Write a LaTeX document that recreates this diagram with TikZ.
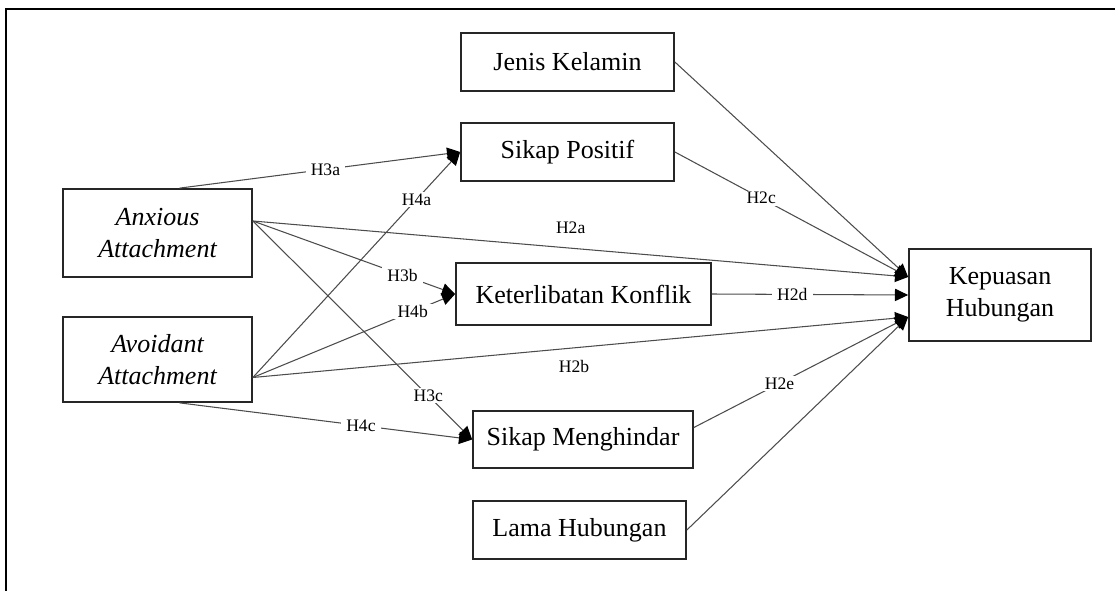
\documentclass[tikz,border=0pt]{standalone}
\usepackage{fontspec}
\setmainfont{Liberation Serif}
\usetikzlibrary{calc}
\usetikzlibrary{arrows.meta}

\begin{document}
\begin{tikzpicture}[x=0.02cm, y=-0.02cm,
    box/.style={draw=black!85, line width=1pt, text=black, align=center, inner sep=2pt,
                font=\fontsize{14.8}{18}\selectfont},
    att/.style={box, font=\fontsize{14.8}{18}\selectfont\itshape},
    link/.style={draw=black!70, line width=0.6pt, -{Triangle[length=7.5pt,width=7pt,color=black]}},
    hyp/.style={fill=white, inner xsep=3pt, inner ysep=1pt, font=\fontsize{10}{12}\selectfont}]
    \useasboundingbox (0,0) rectangle (1115,591);
    \draw [line width=1pt] (1115,9) -- (6,9) -- (6,591);

    % variabel bebas
    \node [att, minimum width=3.78cm, minimum height=1.76cm] (anx) at (157.5,233) {Anxious\\Attachment};
    \node [att, minimum width=3.78cm, minimum height=1.70cm] (avo) at (157.5,359.5) {Avoidant\\Attachment};

    % mediator dan kontrol
    \node [box, minimum width=4.26cm, minimum height=1.16cm] (jk) at (567.5,62) {Jenis Kelamin};
    \node [box, minimum width=4.26cm, minimum height=1.16cm] (sp) at (567.5,152) {Sikap Positif};
    \node [box, minimum width=5.10cm, minimum height=1.24cm] (kk) at (583.5,294) {Keterlibatan Konflik};
    \node [box, minimum width=4.40cm, minimum height=1.14cm] (sm) at (583,439.5) {Sikap Menghindar};
    \node [box, minimum width=4.26cm, minimum height=1.16cm] (lh) at (579.5,530) {Lama Hubungan};

    % variabel terikat
    \node [box, minimum width=3.64cm, minimum height=1.84cm] (kh) at (1000,295) {Kepuasan\\Hubungan};

    \coordinate (anxtop) at ($(anx.north)+(22,0)$);
    \coordinate (anxout) at ($(anx.east)+(0,-12)$);
    \coordinate (avobot) at ($(avo.south)+(22,0)$);
    \coordinate (avoout) at ($(avo.east)+(0,18)$);
    \coordinate (smout) at ($(sm.east)+(0,-12)$);
    \coordinate (khtop) at ($(kh.west)+(0,-18)$);
    \coordinate (khbot) at ($(kh.west)+(0,22)$);

    \draw [link] (anxtop) -- node [hyp, pos=0.52] {H3a} (sp.west);
    \draw [link] (avoout) -- node [hyp, pos=0.79] {H4a} (sp.west);
    \draw [link] (anxout) -- node [hyp, pos=0.74] {H3b} (kk.west);
    \draw [link] (avoout) -- node [hyp, pos=0.79] {H4b} (kk.west);
    \draw [link] (anxout) -- node [hyp, pos=0.80] {H3c} (sm.west);
    \draw [link] (avobot) -- node [hyp, pos=0.62] {H4c} (sm.west);
    \draw [link] (anxout) -- node [hyp, pos=0.485, above=7pt] {H2a} (khtop);
    \draw [link] (avoout) -- node [hyp, pos=0.49, below=6pt] {H2b} (khbot);
    \draw [link] (jk.east) -- (khtop);
    \draw [link] (sp.east) -- node [hyp, pos=0.37] {H2c} (khtop);
    \draw [link] (kk.east) -- node [hyp, pos=0.41] {H2d} (kh.west);
    \draw [link] (smout) -- node [hyp, pos=0.40] {H2e} (khbot);
    \draw [link] (lh.east) -- (khbot);
\end{tikzpicture}
\end{document}
